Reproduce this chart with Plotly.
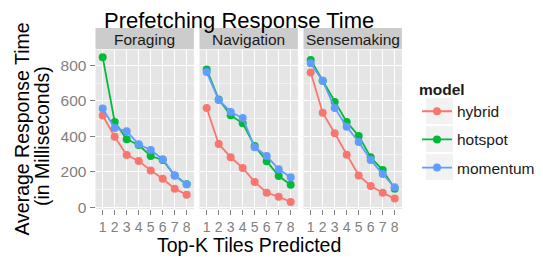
import plotly.graph_objects as go

# The page body has an 8px margin, so the figure itself is drawn 8px in
OFF = 8
W, H = 543 - OFF, 259 - OFF

k_values = [1, 2, 3, 4, 5, 6, 7, 8]
tick_labels = ["1", "2", "3", "4", "5", "6", "7", "8"]
panels = ["Foraging", "Navigation", "Sensemaking"]
models = ["hybrid", "hotspot", "momentum"]

foraging_hybrid = [518, 399, 296, 262, 209, 162, 106, 72]
foraging_hotspot = [846, 482, 384, 352, 290, 268, 180, 131]
foraging_momentum = [557, 448, 429, 356, 324, 272, 180, 131]
navigation_hybrid = [561, 358, 283, 223, 144, 83, 61, 31]
navigation_hotspot = [778, 609, 519, 474, 346, 260, 177, 128]
navigation_momentum = [763, 606, 538, 504, 339, 290, 215, 170]
sensemaking_hybrid = [760, 534, 418, 297, 180, 121, 83, 50]
sensemaking_hotspot = [831, 714, 594, 482, 403, 283, 211, 106]
sensemaking_momentum = [812, 714, 561, 455, 369, 268, 188, 114]

data = {
    "Foraging": [foraging_hybrid, foraging_hotspot, foraging_momentum],
    "Navigation": [navigation_hybrid, navigation_hotspot, navigation_momentum],
    "Sensemaking": [sensemaking_hybrid, sensemaking_hotspot, sensemaking_momentum],
}
colors = {"hybrid": "#F8766D", "hotspot": "#00BA38", "momentum": "#619CFF"}

FONT = "Liberation Sans, Arial, Helvetica, sans-serif"


def px(x):
    return (x - OFF) / W


def py(y):
    return 1 - (y - OFF) / H


panel_x = [(95.5, 193.9), (199.5, 297.9), (303.5, 401.9)]
panel_top, panel_bottom = 50.1, 209.2

fig = go.Figure()
axnames = ["", "2", "3"]
for i, p in enumerate(panels):
    for j, m in enumerate(models):
        fig.add_trace(go.Scatter(
            x=k_values, y=data[p][j], mode="lines+markers", name=m,
            xaxis="x" + axnames[i], yaxis="y" + axnames[i],
            line=dict(color=colors[m], width=1.8),
            marker=dict(color=colors[m], size=8),
            showlegend=(i == 0), legendgroup=m,
        ))

layout = dict(
    template="none",
    width=W, height=H, margin=dict(l=0, r=0, t=0, b=0, pad=0, autoexpand=False),
    paper_bgcolor="white", plot_bgcolor="#E5E5E5",
    font=dict(family=FONT, color="#1A1A1A"),
    legend=dict(
        x=px(417), xanchor="left", y=py(74.5), yanchor="top",
        bgcolor="rgba(0,0,0,0)", borderwidth=0,
        font=dict(size=15.5, family=FONT, color="#1A1A1A"),
        title=dict(text="<b>model</b>", font=dict(size=15.5, family=FONT)),
        traceorder="grouped", tracegroupgap=5, itemwidth=30,
    ),
)

for i in range(3):
    x0, x1 = panel_x[i]
    xa = "xaxis" + axnames[i]
    ya = "yaxis" + axnames[i]
    layout[xa] = dict(
        domain=[px(x0), px(x1)], range=[0.4, 8.6], automargin=False,
        tickvals=k_values, ticktext=tick_labels,
        ticks="outside", ticklen=5, tickwidth=1, tickcolor="#7F7F7F",
        tickfont=dict(size=14, color="#7F7F7F", family=FONT),
        showgrid=True, gridcolor="white", gridwidth=1.2,
        zeroline=False, showline=False, anchor="y" + axnames[i],
    )
    layout[ya] = dict(
        domain=[py(panel_bottom), py(panel_top)], range=[-9.75, 886.75],
        automargin=False, tick0=0, dtick=200,
        showgrid=True, gridcolor="white", gridwidth=1.2,
        minor=dict(dtick=100, tick0=0, showgrid=True, gridcolor="#F2F2F2", gridwidth=0.6),
        zeroline=False, showline=False, anchor="x" + axnames[i],
        ticks="outside" if i == 0 else "", ticklen=5, tickwidth=1, tickcolor="#7F7F7F",
        showticklabels=(i == 0),
        tickfont=dict(size=15.5, color="#7F7F7F", family=FONT),
    )

fig.update_layout(**layout)

shapes = []
annotations = []
for i, p in enumerate(panels):
    x0, x1 = panel_x[i]
    shapes.append(dict(type="rect", xref="paper", yref="paper",
                       x0=px(x0), x1=px(x1), y0=py(49.3), y1=py(28),
                       fillcolor="#CCCCCC", line=dict(width=0), layer="below"))
    annotations.append(dict(text=p, xref="paper", yref="paper",
                            x=px((x0 + x1) / 2), y=py(39.5), showarrow=False,
                            xanchor="center", yanchor="middle", borderpad=0,
                            font=dict(size=15.5, color="#1A1A1A", family=FONT)))

# legend key backgrounds
for yc in [111, 139, 167]:
    shapes.append(dict(type="rect", xref="paper", yref="paper",
                       x0=px(426), x1=px(453), y0=py(yc + 13), y1=py(yc - 13),
                       fillcolor="#F2F2F2", line=dict(width=0), layer="below"))

annotations.append(dict(text="Prefetching Response Time", xref="paper", yref="paper",
                        x=px(239), y=1, showarrow=False,
                        xanchor="center", yanchor="top", yshift=1, borderpad=0,
                        font=dict(size=22, color="black", family=FONT)))
annotations.append(dict(text="Top-K Tiles Predicted", xref="paper", yref="paper",
                        x=px(248.7), y=py(245), showarrow=False,
                        xanchor="center", yanchor="middle",
                        font=dict(size=19.5, color="black", family=FONT)))
annotations.append(dict(text="Average Response Time", xref="paper", yref="paper",
                        x=px(22), y=py(129.6), showarrow=False, textangle=-90,
                        xanchor="center", yanchor="middle",
                        font=dict(size=19.5, color="black", family=FONT)))
annotations.append(dict(text="(in Milliseconds)", xref="paper", yref="paper",
                        x=px(42), y=py(136), showarrow=False, textangle=-90,
                        xanchor="center", yanchor="middle",
                        font=dict(size=19.5, color="black", family=FONT)))

fig.update_layout(shapes=shapes, annotations=annotations)
fig.write_html("out.html")
